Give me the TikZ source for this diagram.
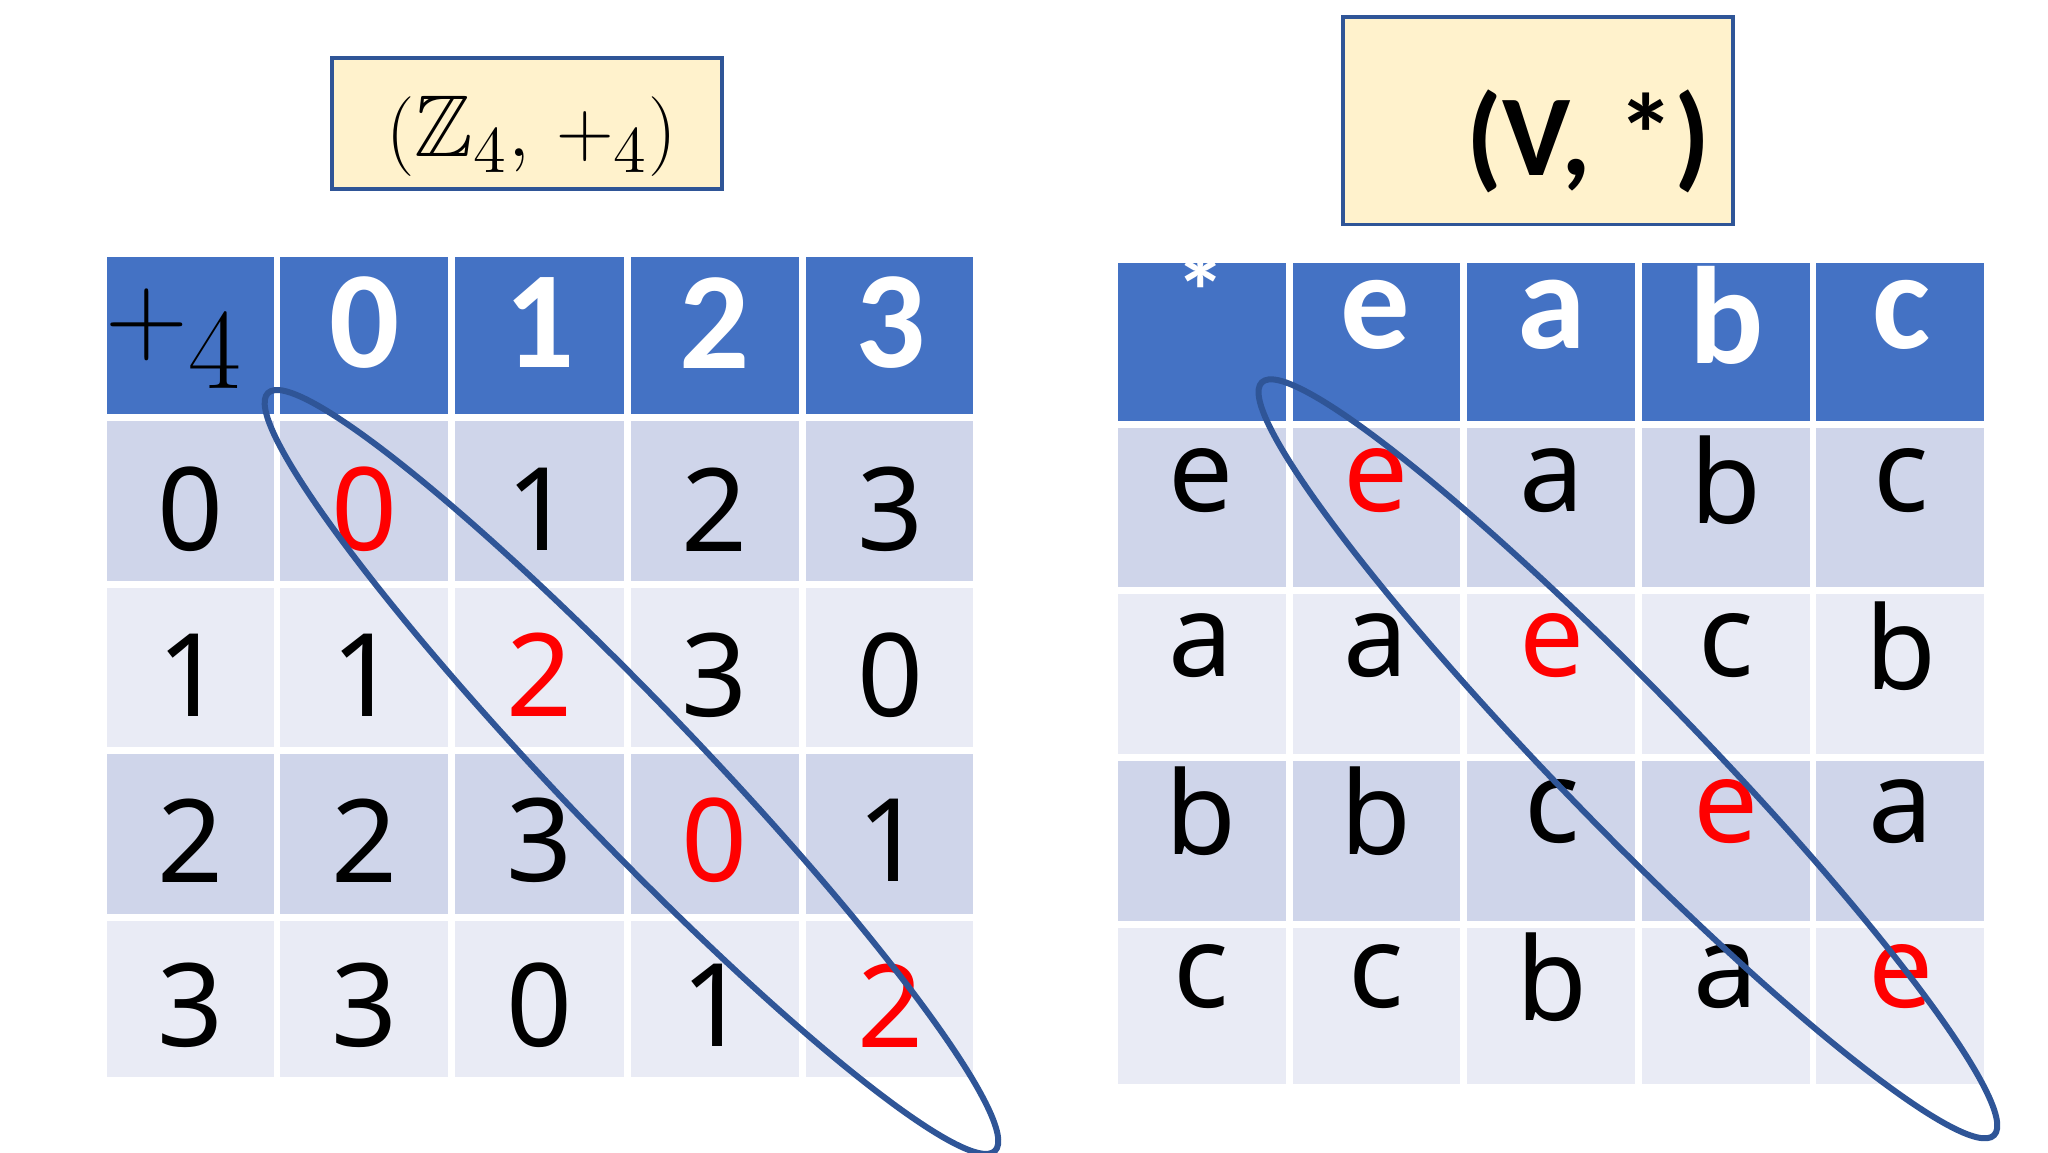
\documentclass[tikz,border=0pt]{standalone}
\usepackage{amssymb}
\usepackage{fontspec}
\setmainfont{Noto Sans}
\newfontfamily\hfam{Carlito}
\begin{document}
\begin{tikzpicture}[x=0.01cm,y=-0.01cm,
  hdr/.style={fill=hblue,draw=white,line width=1.5pt},
  rowa/.style={fill=rowA,draw=white,line width=1.5pt},
  rowb/.style={fill=rowB,draw=white,line width=1.5pt},
  ttl/.style={fill=ttlfill,draw=ttlborder,line width=0.8pt},
  ht/.style={text=white,font=\hfam\fontsize{30}{34}\selectfont\bfseries},
  bt/.style={text=black,font=\fontsize{25}{30}\selectfont},
  rt/.style={text=red,font=\fontsize{25}{30}\selectfont},
  ell/.style={draw=eblue,line width=1.3pt}]
\definecolor{hblue}{HTML}{4472C4}
\definecolor{rowA}{HTML}{CFD5EA}
\definecolor{rowB}{HTML}{E9EBF5}
\definecolor{ttlfill}{HTML}{FFF2CC}
\definecolor{ttlborder}{HTML}{2F5597}
\definecolor{eblue}{HTML}{2F5597}
\useasboundingbox (0,0) rectangle (1560,877.5);
% title boxes
\draw[ttl] (253,44) rectangle (550,144);
\node (t1) at (405,104) {\fontsize{19}{24}\selectfont$(\mathbb{Z}_4,\,+_4)$};
\draw[ttl] (1023,13) rectangle (1320,171);
\node (t2) at (1210,108) {\hfam\fontsize{25}{30}\selectfont\bfseries (V, *)};
% left table
\def\LX{{79,211,344,478,611,744}}
\def\LY{{193,318,445,572,699,823}}
\foreach \c in {0,...,4}{
  \pgfmathsetmacro{\xa}{\LX[\c]}\pgfmathsetmacro{\xb}{\LX[\c+1]}
  \foreach \r in {0,...,4}{
    \pgfmathsetmacro{\ya}{\LY[\r]}\pgfmathsetmacro{\yb}{\LY[\r+1]}
    \pgfmathtruncatemacro{\rpar}{mod(\r,2)}
    \ifnum\r=0 \draw[hdr] (\xa,\ya) rectangle (\xb,\yb);
    \else\ifnum\rpar=1 \draw[rowa] (\xa,\ya) rectangle (\xb,\yb);
    \else \draw[rowb] (\xa,\ya) rectangle (\xb,\yb);\fi\fi
  }}
% right table
\def\RX{{849,982,1115,1248,1381,1514}}
\def\RY{{198,323,450,577,704,828}}
\foreach \c in {0,...,4}{
  \pgfmathsetmacro{\xa}{\RX[\c]}\pgfmathsetmacro{\xb}{\RX[\c+1]}
  \foreach \r in {0,...,4}{
    \pgfmathsetmacro{\ya}{\RY[\r]}\pgfmathsetmacro{\yb}{\RY[\r+1]}
    \pgfmathtruncatemacro{\rpar}{mod(\r,2)}
    \ifnum\r=0 \draw[hdr] (\xa,\ya) rectangle (\xb,\yb);
    \else\ifnum\rpar=1 \draw[rowa] (\xa,\ya) rectangle (\xb,\yb);
    \else \draw[rowb] (\xa,\ya) rectangle (\xb,\yb);\fi\fi
  }}
% left texts
\node[text=black] (lh0) at (133,258) {\fontsize{34}{40}\selectfont$+_4$};
\node[ht] (lh1) at (278,246) {0};
\node[ht] (lh2) at (411,246) {1};
\node[ht] (lh3) at (544,246) {2};
\node[ht] (lh4) at (678,246) {3};
\foreach \row [count=\r] in {{0,0,1,2,3},{1,1,2,3,0},{2,2,3,0,1},{3,3,0,1,2}}{
  \foreach \v [count=\c] in \row {
    \pgfmathsetmacro{\xx}{{145,278,411,544,678}[\c-1]}
    \pgfmathsetmacro{\yy}{{388,514,640,766}[\r-1]}
    \pgfmathtruncatemacro{\diag}{\c==\r+1 ? 1 : 0}
    \ifnum\diag=1 \node[rt] (l\r\c) at (\xx,\yy) {\v};
    \else \node[bt] (l\r\c) at (\xx,\yy) {\v};\fi
  }}
% right texts
\node[text=white,font=\hfam\fontsize{22}{26}\selectfont\bfseries] (rh0) at (915,222) {*};
\node[ht] (rh1) at (1048,240) {e};
\node[ht] (rh2) at (1182,240) {a};
\node[ht] (rh3) at (1315,240) {b};
\node[ht] (rh4) at (1448,240) {c};
\foreach \row [count=\r] in {{e,e,a,b,c},{a,a,e,c,b},{b,b,c,e,a},{c,c,b,a,e}}{
  \foreach \v [count=\c] in \row {
    \pgfmathsetmacro{\xx}{{915,1048,1182,1315,1448}[\c-1]}
    \pgfmathsetmacro{\yy}{{366,492,618,744}[\r-1]}
    \pgfmathtruncatemacro{\diag}{\c==\r+1 ? 1 : 0}
    \ifnum\diag=1 \node[rt] (r\r\c) at (\xx,\yy) {\v};
    \else \node[bt] (r\r\c) at (\xx,\yy) {\v};\fi
  }}
% ellipses
\draw[ell] (481,588) ellipse[x radius=400,y radius=52,rotate=-46.2];
\draw[ell] (1240,578) ellipse[x radius=400,y radius=52,rotate=-45.8];
\end{tikzpicture}
\end{document}
